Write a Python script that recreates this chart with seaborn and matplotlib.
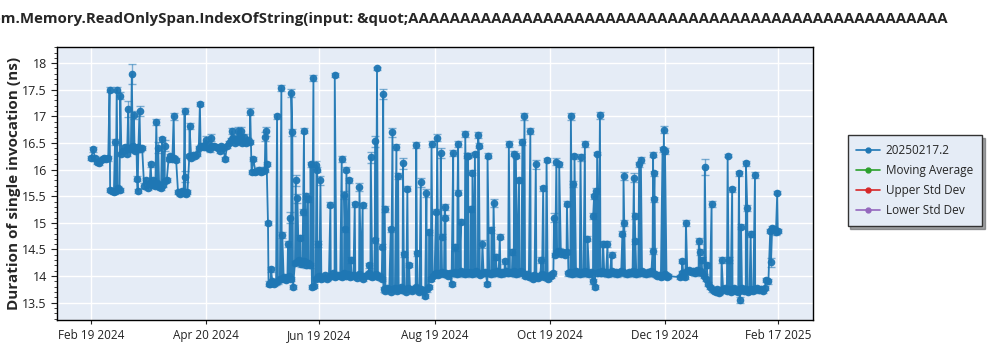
import numpy as np
import pandas as pd
import matplotlib
matplotlib.use("Agg")
import matplotlib.pyplot as plt
import matplotlib.dates as mdates
import matplotlib.ticker as mticker
from matplotlib.lines import Line2D
import seaborn as sns

# ---------------- data ----------------
title_text = "System.Memory.ReadOnlySpan.IndexOfString(input: &quot;" + "A" * 52
y_label = "Duration of single invocation (ns)"
series_name = "20250217.2"
legend_names = ["20250217.2", "Moving Average", "Upper Std Dev", "Lower Std Dev"]
legend_colors = ["#1f77b4", "#2ca02c", "#d62728", "#9467bd"]

start_date = "2024-02-19"
# one baseline run per day, Feb 19 2024 .. Feb 17 2025 (nan = no run)
baseline = [
    16.22, 16.38, 16.21, 16.15, 16.12, 16.18, 16.20, 16.21, 16.20, 16.21,
    15.62, 15.60, 15.58, 15.60, 15.65, 15.62, 16.30, 16.35, 16.42, 16.30,
    16.40, 16.38, 16.45, 16.35, 16.40, 16.43, 16.38, 16.40, 15.70, 15.80,
    15.65, 15.75, 15.72, 15.80, 15.70, 15.75, 15.68, 15.65, 15.72, 15.78,
    15.80, 16.20, 16.25, 16.20, 16.22, 16.18, 15.58, 15.55, 15.60, 15.57,
    15.55, 15.58, 16.25, 16.22, 16.28, 16.25, 16.30, 16.40, 16.45, 16.45,
    16.42, 16.48, 16.40, 16.38, 16.45, 16.45, 16.43, 16.40, 16.35, 16.45,
    16.40, 16.20, 16.45, 16.50, 16.55, 16.60, 16.50, 16.58, 16.53, 16.60,
    16.50, 16.62, 16.50, 16.55, 16.52, 15.96, 16.20, 15.95, 15.98, 16.00,
    15.95, 15.97, 16.00, 16.10, 13.86, 13.85, 13.90, 13.85, 13.88, 13.90,
    13.95, 13.95, 13.98, 13.92, 13.97, 14.00, 13.95, 13.80, 14.25, 14.27,
    14.30, 14.22, 14.25, 14.28, 14.20, 14.25, 14.20, 13.80, 13.82, 13.95,
    13.98, 14.00, 13.95, 13.97, 14.02, 13.95, 13.98, 14.00, 14.05, 13.98,
    14.00, 14.02, 14.00, 13.98, 14.05, 14.00, 14.03, 13.98, 14.00, 14.02,
    14.00, 13.97, 14.03, 14.00, 13.95, 14.00, 14.02, 14.05, 14.00, 13.98,
    14.00, 14.03, 13.98, 14.00, 13.95, 13.75, 13.72, 13.78, 13.75, 13.70,
    13.75, 13.78, 13.72, 13.75, 13.80, 13.73, 13.75, 13.70, 13.78, 13.75,
    13.72, 13.75, 13.80, 13.74, 13.70, 13.76, 13.72, 13.62, 13.75, 13.80,
    13.95, 14.00, 14.03, 14.05, 14.02, 14.05, 14.08, 14.03, 14.05, 14.00,
    14.05, 13.85, 14.05, 14.08, 14.03, 14.05, 14.10, 14.05, 14.03, 14.07,
    14.05, 14.08, 14.03, 14.05, 14.10, 14.05, 14.02, 14.06, 14.05, 14.08,
    13.85, 14.05, 14.03, 14.08, 14.05, 14.10, 14.05, 14.03, 14.08, 14.05,
    14.10, 14.05, 14.08, 14.05, 14.10, 14.03, 14.05, 14.08, 14.10, 14.05,
    14.00, 14.03, 13.98, 14.00, 13.95, 14.02, 14.00, 13.97, 14.00, 14.03,
    13.98, 14.00, 13.95, 14.02, 14.00, 14.05, 14.40, 14.45, 14.48, 14.42,
    14.45, 14.40, 14.45, 14.05, 14.08, 14.03, 14.05, 14.10, 14.05, 14.03,
    14.08, 14.05, 14.10, 14.05, 14.03, 14.08, 13.90, 13.80, 14.05, 14.08,
    14.05, 14.10, 14.05, 14.08, 14.03, 14.05, 14.10, 14.05, 14.08, 14.03,
    14.05, 14.10, 14.08, 14.05, 14.03, 14.08, 14.05, 14.10, 14.05, 14.03,
    14.08, 14.05, 14.10, 14.05, 14.03, 14.08, 14.05, 14.10, 14.05, 14.03,
    14.00, 14.02, 13.98, 14.00, 14.03, 13.98, 14.00, np.nan, np.nan, np.nan,
    np.nan, np.nan, 13.98, 14.05, 14.00, 13.98, 14.10, 14.12, 14.08, 14.10,
    14.05, 14.12, 14.08, 14.10, 14.05, 14.00, 13.95, 13.85, 13.80, 13.75,
    13.72, 13.70, 13.75, 13.68, 13.72, 13.75, 13.78, 13.72, 13.75, 13.70,
    13.75, 13.78, 13.72, 13.70, 13.75, 13.78, 13.72, 13.75, 13.70, 13.74,
    13.76, 13.72, 13.75, 13.78, 13.73, 13.75, 13.72, 13.78, 13.93, 13.90,
    14.85, 14.90, 14.88, 14.82, 14.85,
]
baseline_err = 0.04

# extra runs (outliers), as days after start_date
spike_day = [
    9.7, 12.6, 13.5, 15.4, 19.6, 21.5, 22.6, 24.3, 24.6, 25.6,
    31.5, 34.5, 35.5, 37.5, 38.9, 43.7, 49.5, 49.8, 52.1, 57.6,
    60.6, 63.6, 74.6, 77.8, 79.6, 84.3, 92.3, 92.7, 93.7,
    95.3, 98.5, 100.8, 101.3, 104.3, 105.2, 106.1, 106.6, 108.4, 109.3,
    110.9, 112.3, 112.8, 113.7, 114.9, 116.3, 117.8, 119.4, 119.7, 120.2,
    121.5, 126.8, 129.1, 132.8, 134.2, 134.6, 135.3, 136.8, 137.6, 139.7,
    142.2, 143.9, 147.4, 148.2, 150.3, 150.7, 151.5, 154.3, 154.8, 155.6,
    158.8, 159.7, 161.8, 162.7, 165.3, 165.7, 167.6, 168.5, 172.3, 172.7,
    174.7, 177.7, 179.1, 180.4, 182.8, 183.4, 185.3, 185.7, 187.4, 187.8,
    191.9, 193.1, 194.2, 194.5, 195.9, 198.3, 199.3, 199.8, 201.2, 202.1,
    203.4, 205.1, 205.5, 207.4, 210.1, 212.2, 213.3, 214.5, 216.6, 219.3,
    221.4, 223.3, 224.2, 225.1, 226.8, 228.6, 229.7, 232.8, 235.7, 238.7,
    239.6, 241.4, 245.4, 246.6, 248.1, 252.2, 254.3, 255.5, 256.2, 259.4,
    261.7, 263.1, 266.1, 266.6, 267.4, 268.2, 269.7, 271.4, 273.7, 275.9,
    281.6, 282.2, 282.6, 287.7, 288.1, 288.5, 290.5, 291.4, 297.6, 297.9,
    298.3, 298.6, 302.9, 303.6, 304.2, 313.4, 315.3, 322.1, 322.7, 323.6,
    325.3, 326.3, 328.9, 334.2, 337.4, 338.2, 339.8, 343.4, 343.8, 344.5,
    347.1, 347.8, 349.6, 351.9, 360.4, 363.7,
]
spike_value = [
    17.50, 16.52, 17.50, 17.39, 17.13, 17.79, 17.03, 15.83, 15.60, 17.10,
    16.10, 16.90, 16.41, 16.57, 16.45, 17.00, 17.10, 15.87, 16.82, 17.23,
    16.55, 16.60, 16.72, 16.72, 16.73, 17.09, 16.62, 16.72, 15.00,
    14.13, 17.00, 17.53, 14.77, 14.60, 15.10, 17.44, 16.70, 15.80, 15.46,
    14.72, 15.20, 16.73, 15.50, 15.44, 16.10, 17.72, 16.09, 16.00, 14.60,
    15.80, 15.34, 17.78, 16.20, 15.52, 14.88, 16.00, 15.80, 14.30, 15.35,
    15.67, 15.33, 14.20, 16.23, 14.67, 16.53, 17.90, 14.55, 17.42, 15.26,
    14.88, 16.70, 16.42, 15.88, 16.12, 14.41, 15.64, 14.21, 16.46, 14.43,
    15.76, 15.56, 14.82, 16.48, 15.21, 16.60, 16.31, 14.74, 15.30, 15.10,
    16.31, 14.54, 15.57, 16.48, 15.02, 16.67, 16.26, 16.26, 15.26, 15.94,
    16.29, 16.65, 16.45, 14.60, 16.26, 14.87, 15.37, 14.36, 14.74, 14.28,
    16.48, 14.45, 16.30, 16.26, 15.80, 16.52, 17.00, 16.72, 16.10, 14.30,
    15.65, 16.18, 15.10, 16.15, 16.10, 15.36, 17.00, 15.73, 16.25, 16.23,
    16.48, 14.70, 15.13, 15.50, 15.60, 16.30, 17.02, 14.60, 14.60, 14.40,
    14.80, 15.88, 15.00, 15.85, 15.13, 14.65, 16.10, 16.18, 14.47, 16.28,
    15.44, 15.93, 16.38, 16.75, 16.35, 14.28, 15.00, 14.66, 14.45, 14.30,
    16.05, 14.20, 15.35, 14.30, 16.26, 14.30, 15.63, 15.93, 13.55, 14.93,
    16.12, 15.28, 14.79, 15.90, 14.26, 15.57,
]
spike_err = [
    .05, .05, .05, .06, .15, .19, .08, .05, .04, .10,
    .05, .06, .10, .05, .10, .06, .05, .10, .05, .04,
    .08, .06, .06, .08, .08, .06, .08, .08, .04,
    .05, .04, .06, .05, .05, .10, .08, .06, .10, .08,
    .05, .06, .05, .06, .05, .05, .06, .08, .05, .05,
    .08, .05, .04, .05, .08, .05, .05, .05, .05, .05,
    .08, .05, .05, .10, .05, .10, .03, .05, .10, .06,
    .05, .08, .06, .05, .10, .05, .05, .04, .05, .05,
    .08, .08, .05, .05, .05, .06, .10, .05, .05, .05,
    .05, .06, .05, .05, .05, .06, .05, .05, .05, .05,
    .05, .05, .05, .08, .05, .06, .08, .05, .05, .05,
    .05, .05, .05, .05, .05, .05, .06, .06, .08, .05,
    .05, .03, .08, .06, .05, .05, .07, .05, .05, .07,
    .05, .05, .05, .05, .05, .03, .06, .05, .05, .05,
    .05, .08, .05, .08, .05, .05, .05, .05, .05, .05,
    .05, .05, .05, .07, .05, .04, .05, .06, .05, .05,
    .15, .05, .06, .05, .03, .05, .05, .05, .05, .05,
    .05, .06, .05, .05, .08, .03,
]

# the other legend series have no points in this chart
moving_average = []
upper_std_dev = []
lower_std_dev = []

xtick_dates = ["2024-02-19", "2024-04-20", "2024-06-19", "2024-08-19",
               "2024-10-19", "2024-12-19", "2025-02-17"]
ytick_values = [13.5, 14, 14.5, 15, 15.5, 16, 16.5, 17, 17.5, 18]
x_range = ["2024-02-01", "2025-03-07 12:00"]
y_range = [13.175, 18.31]

# ---------------- frame ----------------
start = pd.Timestamp(start_date)
base_df = pd.DataFrame({
    "date": pd.date_range(start, periods=len(baseline), freq="D"),
    "value": baseline,
    "err": baseline_err,
})
spike_df = pd.DataFrame({
    "date": start + pd.to_timedelta(spike_day, unit="D"),
    "value": spike_value,
    "err": spike_err,
})
df = pd.concat([base_df, spike_df]).dropna().sort_values("date").reset_index(drop=True)

# ---------------- style ----------------
sns.set_style("whitegrid", {
    "axes.facecolor": "#e5ecf6",
    "grid.color": "white",
    "axes.edgecolor": "black",
})
plt.rcParams["font.family"] = ["Open Sans", "DejaVu Sans"]
plt.rcParams["axes.linewidth"] = 1.0

fig = plt.figure(figsize=(10, 3.5), dpi=100)
ax = fig.add_axes([0.0573, 0.0857, 0.7554, 0.781])

blue = legend_colors[0]
ax.errorbar(df["date"], df["value"], yerr=df["err"], fmt="none",
            ecolor=blue, alpha=0.55, elinewidth=1.0, capsize=3, capthick=1.0, zorder=2)
sns.lineplot(data=df, x="date", y="value", estimator=None, sort=False,
             color=blue, marker="o", markersize=5.5, markeredgewidth=0,
             linewidth=1.3, alpha=0.95, ax=ax, legend=False, zorder=3)
ax.plot(moving_average, moving_average, color=legend_colors[1])
ax.plot(upper_std_dev, upper_std_dev, color=legend_colors[2])
ax.plot(lower_std_dev, lower_std_dev, color=legend_colors[3])

ax.set_xlim(pd.Timestamp(x_range[0]), pd.Timestamp(x_range[1]))
ax.set_ylim(*y_range)
ax.set_xticks([pd.Timestamp(d) for d in xtick_dates])
ax.xaxis.set_major_formatter(mdates.DateFormatter("%b %d %Y"))
ax.set_yticks(ytick_values)
ax.yaxis.set_major_formatter(mticker.FuncFormatter(lambda v, p: f"{v:g}"))
ax.yaxis.set_minor_locator(mticker.MultipleLocator(0.1))
ax.tick_params(axis="y", which="major", direction="out", length=4, labelsize=9, colors="#222222", left=True)
ax.tick_params(axis="y", which="minor", direction="out", length=2, left=True, color="#222222")
ax.tick_params(axis="x", which="major", direction="out", length=3, labelsize=8.5, colors="#222222", bottom=True)
ax.grid(True, which="major", color="white", linewidth=1.0)
ax.grid(False, which="minor")
for s in ax.spines.values():
    s.set_color("black")
    s.set_linewidth(1.0)

ax.set_xlabel("")
ax.set_ylabel(y_label, fontsize=11, fontweight="bold", labelpad=1)
fig.text(0.948, 0.945, title_text, ha="right", va="center", fontsize=10.8, fontweight="bold")

handles = [Line2D([], [], color=c, marker="o", markersize=3.5, linewidth=1.2) for c in legend_colors]
leg = fig.legend(handles, legend_names, loc="upper left",
                 bbox_to_anchor=(0.8475, 1 - 135 / 350), bbox_transform=fig.transFigure,
                 frameon=True, fancybox=False, shadow=True, fontsize=8.5,
                 handlelength=2.0, handletextpad=0.5, labelspacing=0.6,
                 borderpad=0.75, borderaxespad=0)
leg.get_frame().set_edgecolor("#333333")
leg.get_frame().set_linewidth(1.0)

fig.savefig("out.png", dpi=100)
